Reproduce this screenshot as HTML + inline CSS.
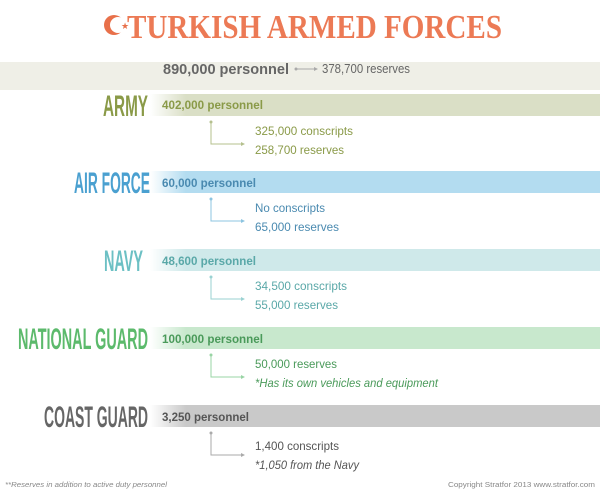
<!DOCTYPE html>
<html><head><meta charset="utf-8"><style>
html,body{margin:0;padding:0;background:#fff;width:600px;height:492px;overflow:hidden}
svg{display:block;font-family:"Liberation Sans",sans-serif}
</style></head><body>
<svg width="600" height="492" viewBox="0 0 600 492" xmlns="http://www.w3.org/2000/svg">
<defs>
<linearGradient id="ga" x1="0" x2="1"><stop offset="0" stop-color="#dadfc6" stop-opacity="0"/><stop offset="0.08" stop-color="#dadfc6"/></linearGradient>
<linearGradient id="gb" x1="0" x2="1"><stop offset="0" stop-color="#b3dcf0" stop-opacity="0"/><stop offset="0.08" stop-color="#b3dcf0"/></linearGradient>
<linearGradient id="gc" x1="0" x2="1"><stop offset="0" stop-color="#cfe9ea" stop-opacity="0"/><stop offset="0.08" stop-color="#cfe9ea"/></linearGradient>
<linearGradient id="gd" x1="0" x2="1"><stop offset="0" stop-color="#c8e8cd" stop-opacity="0"/><stop offset="0.08" stop-color="#c8e8cd"/></linearGradient>
<linearGradient id="ge" x1="0" x2="1"><stop offset="0" stop-color="#c9c9c9" stop-opacity="0"/><stop offset="0.08" stop-color="#c9c9c9"/></linearGradient>
</defs>
<!-- title -->
<circle cx="114" cy="25" r="10" fill="#e8704a"/><circle cx="118" cy="25" r="8" fill="#fff"/>
<text x="121" y="29" font-size="9" fill="#e8704a">★</text>
<text x="127" y="38" style="font-family:'Liberation Serif',serif" font-weight="bold" font-size="34" fill="#ec7a55" textLength="375" lengthAdjust="spacingAndGlyphs">TURKISH ARMED FORCES</text>
<!-- top bar -->
<rect x="0" y="62" width="600" height="28" fill="#efefe7"/>
<text x="163" y="74" font-size="15" font-weight="bold" fill="#666" textLength="126" lengthAdjust="spacingAndGlyphs">890,000 personnel</text>
<line x1="296" y1="69" x2="316" y2="69" stroke="#aaa" stroke-width="1"/><circle cx="296" cy="69" r="1.5" fill="#aaa"/><path d="M314 67 L318 69 L314 71Z" fill="#aaa"/>
<text x="322" y="73" font-size="13" fill="#666" textLength="88" lengthAdjust="spacingAndGlyphs">378,700 reserves</text>

<g>
<rect x="150" y="94" width="450" height="22" fill="url(#ga)"/>
<text x="103" y="116" font-size="30" font-weight="bold" fill="#8a9a48" textLength="45" lengthAdjust="spacingAndGlyphs">ARMY</text>
<text x="162" y="109" font-size="12" font-weight="bold" fill="#8a9a48" textLength="101" lengthAdjust="spacingAndGlyphs">402,000 personnel</text>
<path d="M211 122 V144 H243" stroke="#b5c08e" fill="none"/><circle cx="211" cy="122" r="1.5" fill="#b5c08e"/><path d="M241 142 L245 144 L241 146Z" fill="#b5c08e"/>
<text x="255" y="135" font-size="12" fill="#8a9a48" textLength="98" lengthAdjust="spacingAndGlyphs">325,000 conscripts</text>
<text x="255" y="154" font-size="12" fill="#8a9a48" textLength="89" lengthAdjust="spacingAndGlyphs">258,700 reserves</text>
</g>
<g>
<rect x="150" y="171" width="450" height="22" fill="url(#gb)"/>
<text x="74" y="193" font-size="30" font-weight="bold" fill="#4aa0d0" textLength="76" lengthAdjust="spacingAndGlyphs">AIR FORCE</text>
<text x="162" y="187" font-size="12" font-weight="bold" fill="#4a8ab0" textLength="94" lengthAdjust="spacingAndGlyphs">60,000 personnel</text>
<path d="M211 199 V221 H243" stroke="#8cc4e0" fill="none"/><circle cx="211" cy="199" r="1.5" fill="#8cc4e0"/><path d="M241 219 L245 221 L241 223Z" fill="#8cc4e0"/>
<text x="255" y="212" font-size="12" fill="#4a8ab0" textLength="70" lengthAdjust="spacingAndGlyphs">No conscripts</text>
<text x="255" y="231" font-size="12" fill="#4a8ab0" textLength="84" lengthAdjust="spacingAndGlyphs">65,000  reserves</text>
</g>
<g>
<rect x="150" y="249" width="450" height="22" fill="url(#gc)"/>
<text x="104" y="271" font-size="30" font-weight="bold" fill="#6cc0c4" textLength="39" lengthAdjust="spacingAndGlyphs">NAVY</text>
<text x="162" y="265" font-size="12" font-weight="bold" fill="#5aa8a8" textLength="94" lengthAdjust="spacingAndGlyphs">48,600 personnel</text>
<path d="M211 277 V299 H243" stroke="#9ad2d2" fill="none"/><circle cx="211" cy="277" r="1.5" fill="#9ad2d2"/><path d="M241 297 L245 299 L241 301Z" fill="#9ad2d2"/>
<text x="255" y="290" font-size="12" fill="#5aa8a8" textLength="92" lengthAdjust="spacingAndGlyphs">34,500 conscripts</text>
<text x="255" y="309" font-size="12" fill="#5aa8a8" textLength="83" lengthAdjust="spacingAndGlyphs">55,000 reserves</text>
</g>
<g>
<rect x="150" y="327" width="450" height="22" fill="url(#gd)"/>
<text x="18" y="349" font-size="30" font-weight="bold" fill="#5cba6c" textLength="130" lengthAdjust="spacingAndGlyphs">NATIONAL GUARD</text>
<text x="162" y="343" font-size="12" font-weight="bold" fill="#4a9a5a" textLength="101" lengthAdjust="spacingAndGlyphs">100,000 personnel</text>
<path d="M211 355 V377 H243" stroke="#98d4a4" fill="none"/><circle cx="211" cy="355" r="1.5" fill="#98d4a4"/><path d="M241 375 L245 377 L241 379Z" fill="#98d4a4"/>
<text x="255" y="368" font-size="12" fill="#4a9a5a" textLength="82" lengthAdjust="spacingAndGlyphs">50,000 reserves</text>
<text x="255" y="387" font-size="12" font-style="italic" fill="#4a9a5a" textLength="183" lengthAdjust="spacingAndGlyphs">*Has its own vehicles and equipment</text>
</g>
<g>
<rect x="150" y="405" width="450" height="22" fill="url(#ge)"/>
<text x="44" y="427" font-size="30" font-weight="bold" fill="#666" textLength="104" lengthAdjust="spacingAndGlyphs">COAST GUARD</text>
<text x="162" y="421" font-size="12" font-weight="bold" fill="#555" textLength="87" lengthAdjust="spacingAndGlyphs">3,250 personnel</text>
<path d="M211 433 V455 H243" stroke="#aaa" fill="none"/><circle cx="211" cy="433" r="1.5" fill="#aaa"/><path d="M241 453 L245 455 L241 457Z" fill="#aaa"/>
<text x="255" y="450" font-size="12" fill="#555" textLength="84" lengthAdjust="spacingAndGlyphs">1,400 conscripts</text>
<text x="255" y="469" font-size="12" font-style="italic" fill="#555" textLength="104" lengthAdjust="spacingAndGlyphs">*1,050 from the Navy</text>
</g>
<text x="5" y="487" font-size="7" font-style="italic" fill="#888" textLength="162" lengthAdjust="spacingAndGlyphs">**Reserves in addition to active duty personnel</text>
<text x="448" y="487" font-size="7" fill="#888" textLength="147" lengthAdjust="spacingAndGlyphs">Copyright Stratfor 2013   www.stratfor.com</text>
</svg>
</body></html>
